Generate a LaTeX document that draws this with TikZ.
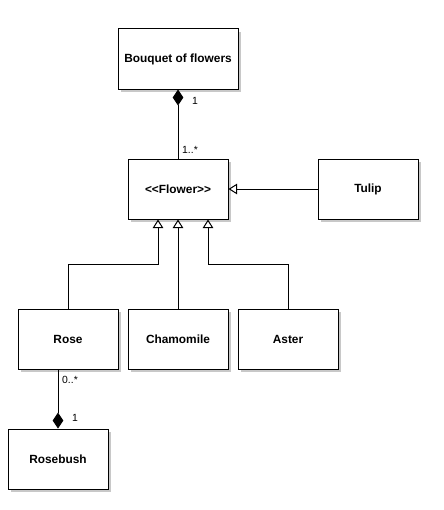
\documentclass[tikz,border=0pt]{standalone}
\usepackage{fontspec}
\setmainfont{Liberation Sans}
\usetikzlibrary{positioning, arrows.meta, shadows}
\definecolor{UmlShadow}{HTML}{C8C8C8}

\tikzset{
  classbox/.style={draw, fill=white, line width=0.75pt, minimum width=75pt, minimum height=45pt,
    font=\fontsize{8.9pt}{10pt}\selectfont\bfseries,
    drop shadow={shadow xshift=2.5pt, shadow yshift=-2.5pt, fill=UmlShadow, opacity=1}},
  composition/.style={draw, line width=0.75pt, {Diamond[length=12pt, width=8pt]}-},
  generalization/.style={draw, line width=0.75pt, -{Triangle[open, length=6.5pt, width=8pt]}},
  mult/.style={font=\fontsize{7.8pt}{9pt}\selectfont, inner sep=1pt}
}

\begin{document}
\begin{tikzpicture}[x=0.75pt, y=-0.75pt]
  \useasboundingbox (0,0) rectangle (443,510);

  % Bouquet
  \node[classbox, minimum width=90pt] (bouquet) at (178,59) {Bouquet of flowers};

  % Flower interface
  \node[classbox] (flower) at (178,189) {<{}<Flower>{}>};

  % Tulip
  \node[classbox] (tulip) at (368,189) {Tulip};

  % Subclasses
  \node[classbox] (rose) at (68,339) {Rose};
  \node[classbox] (chamomile) at (178,339) {Chamomile};
  \node[classbox] (aster) at (288,339) {Aster};

  % Rosebush
  \node[classbox] (rosebush) at (58,459) {Rosebush};

  % Bends
  \coordinate (rosebend) at (158,264);
  \coordinate (asterbend) at (208,264);

  % Composition
  \draw[composition] (bouquet.south) -- (flower.north);
  \node[mult] at (195,101) {1};
  \node[mult] at (190,150) {1..*};

  \draw[composition] (rosebush.north) -- (rosebush.north |- rose.south);
  \node[mult] at (70,380) {0..*};
  \node[mult] at (75,418) {1};

  % Generalization
  \draw[generalization] (tulip.west) -- (flower.east);
  \draw[generalization] (rose.north) |- (rosebend) -- (rosebend |- flower.south);
  \draw[generalization] (chamomile.north) -- (flower.south);
  \draw[generalization] (aster.north) |- (asterbend) -- (asterbend |- flower.south);
\end{tikzpicture}
\end{document}
